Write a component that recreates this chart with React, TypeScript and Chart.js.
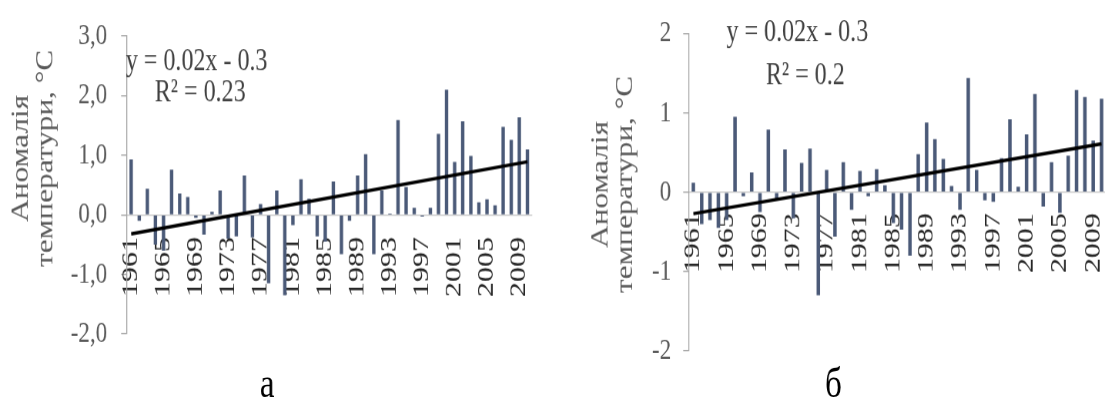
import React, { useEffect, useRef } from "react";
import { Chart, registerables } from "chart.js";

Chart.register(...registerables);

// ---------- data ----------
const years = [
  "1961", "1962", "1963", "1964", "1965", "1966", "1967", "1968", "1969", "1970",
  "1971", "1972", "1973", "1974", "1975", "1976", "1977", "1978", "1979", "1980",
  "1981", "1982", "1983", "1984", "1985", "1986", "1987", "1988", "1989", "1990",
  "1991", "1992", "1993", "1994", "1995", "1996", "1997", "1998", "1999", "2000",
  "2001", "2002", "2003", "2004", "2005", "2006", "2007", "2008", "2009", "2010",
];
const yearTicks = ["1961", "1965", "1969", "1973", "1977", "1981", "1985", "1989", "1993", "1997", "2001", "2005", "2009"];

const anomalyA = [
  0.93, -0.1, 0.44, -0.5, -0.6, 0.76, 0.36, 0.3, -0.05, -0.33,
  0.05, 0.41, -0.4, -0.36, 0.66, -0.38, 0.18, -1.15, 0.41, -1.35,
  -0.17, 0.6, 0.27, -0.36, -0.45, 0.56, -0.66, -0.1, 0.66, 1.02,
  -0.66, 0.41, 0.02, 1.59, 0.47, 0.12, -0.03, 0.12, 1.36, 2.1,
  0.89, 1.57, 0.99, 0.21, 0.26, 0.16, 1.48, 1.26, 1.64, 1.1,
];
const trendA = [-0.32, 0.89];
const yTicksA = ["-2,0", "-1,0", "0,0", "1,0", "2,0", "3,0"];
const equationA = ["y = 0.02x - 0.3", "R\u00B2 = 0.23"];

const anomalyB = [
  0.12, -0.4, -0.35, -0.45, -0.35, 0.95, -0.05, 0.25, -0.25, 0.79,
  -0.1, 0.54, -0.33, 0.37, 0.55, -1.3, 0.28, -0.56, 0.38, -0.22,
  0.27, -0.05, 0.29, 0.09, -0.39, -0.47, -0.8, 0.48, 0.88, 0.67,
  0.42, 0.08, -0.22, 1.44, 0.28, -0.1, -0.12, 0.43, 0.92, 0.07,
  0.73, 1.24, -0.18, 0.38, -0.26, 0.46, 1.29, 1.2, 0.65, 1.18,
];
const trendB = [-0.27, 0.61];
const yTicksB = ["-2", "-1", "0", "1", "2"];
const equationB = ["y = 0.02x - 0.3", "R\u00B2 = 0.2"];

const axisTitle = ["Аномалія", "температури, °С"];
const captionA = "а";
const captionB = "б";

// ---------- layout / style ----------
const STRETCH = 1.3; // the picture is stretched vertically
const LOGICAL_H = 306;
const FONT = '"Liberation Serif", "Times New Roman", serif';
const BAR_COLOR = "#4b5a78";
const AXIS_COLOR = "#a6a6a6";

type Layout = {
  width: number;
  axisWidth: number;
  top: number;
  bottom: number;
  padRight: number;
  yMin: number;
  yMax: number;
  yTickPad: number;
  xTickPad: number;
  titleX: number[];
  titleY: number;
  eqPos: number[][];
  captionPos: number[];
};

const layoutA: Layout = {
  width: 552, axisWidth: 127, top: 21.5, bottom: 256.2, padRight: 21, yMin: -2, yMax: 3,
  yTickPad: 14, xTickPad: 17, titleX: [28, 52], titleY: 121.5,
  eqPos: [[196.5, 47.7], [200, 71.5]], captionPos: [267, 304.5],
};

const layoutB: Layout = {
  width: 553, axisWidth: 137, top: 21.5, bottom: 269.2, padRight: 0, yMin: -2, yMax: 2,
  yTickPad: 12, xTickPad: 16, titleX: [55, 80], titleY: 141.5,
  eqPos: [[245, 25.4], [253, 58.5]], captionPos: [281, 304.5],
};

function makeTextPlugin(lay: Layout, equation: string[], caption: string) {
  return {
    id: "panelText",
    afterDraw(chart: any) {
      const ctx = chart.ctx as CanvasRenderingContext2D;
      ctx.save();
      // axis title (two rotated lines)
      ctx.fillStyle = "#595959";
      ctx.font = `24px ${FONT}`;
      ctx.textAlign = "center";
      ctx.textBaseline = "alphabetic";
      axisTitle.forEach((line, i) => {
        ctx.save();
        ctx.translate(lay.titleX[i], lay.titleY);
        ctx.rotate(-Math.PI / 2);
        ctx.fillText(line, 0, 0);
        ctx.restore();
      });
      // trend equation
      ctx.fillStyle = "#404040";
      ctx.font = `24px ${FONT}`;
      ctx.textBaseline = "middle";
      equation.forEach((line, i) => {
        ctx.fillText(line, lay.eqPos[i][0], lay.eqPos[i][1]);
      });
      // panel caption
      ctx.fillStyle = "#000000";
      ctx.font = `33px ${FONT}`;
      ctx.textBaseline = "alphabetic";
      ctx.fillText(caption, lay.captionPos[0], lay.captionPos[1]);
      ctx.restore();
    },
  };
}

type PanelProps = {
  lay: Layout;
  values: number[];
  trend: number[];
  yLabels: string[];
  equation: string[];
  caption: string;
};

function Panel({ lay, values, trend, yLabels, equation, caption }: PanelProps) {
  const ref = useRef<HTMLCanvasElement>(null);

  useEffect(() => {
    const canvas = ref.current;
    if (!canvas) return;
    const last = years.length - 1;
    const trendData = years.map((_, i) => (i === 0 ? trend[0] : i === last ? trend[1] : null));

    const chart = new Chart(canvas, {
      type: "bar",
      data: {
        labels: years,
        datasets: [
          {
            type: "line",
            data: trendData,
            borderColor: "#000000",
            borderWidth: 2.6,
            pointRadius: 0,
            spanGaps: true,
            order: 0,
          } as any,
          {
            type: "bar",
            data: values,
            backgroundColor: BAR_COLOR,
            borderWidth: 0,
            categoryPercentage: 1,
            barPercentage: 0.42,
            order: 1,
          },
        ],
      },
      options: {
        animation: false,
        responsive: false,
        devicePixelRatio: STRETCH,
        layout: {
          padding: { left: 0, right: lay.padRight, top: lay.top, bottom: LOGICAL_H - lay.bottom },
        },
        plugins: {
          legend: { display: false },
          tooltip: { enabled: false },
          title: { display: false },
        },
        scales: {
          x: {
            type: "category",
            position: { y: 0 } as any,
            offset: true,
            grid: { display: true, drawOnChartArea: false, drawTicks: false },
            border: { display: true, color: "#c8c8c8", width: 1 },
            ticks: {
              autoSkip: false,
              maxRotation: 90,
              minRotation: 90,
              padding: lay.xTickPad,
              color: "#262626",
              font: { family: FONT, size: 23 },
              callback: (_v: any, index: number) =>
                yearTicks.includes(years[index]) ? years[index] : "",
            },
            afterFit: (scale: any) => {
              scale.paddingLeft = 0;
              scale.paddingRight = 0;
            },
          },
          y: {
            min: lay.yMin,
            max: lay.yMax,
            grid: { display: true, drawOnChartArea: false, drawTicks: true, tickLength: 6, color: AXIS_COLOR },
            border: { display: true, color: AXIS_COLOR, width: 1 },
            ticks: {
              stepSize: 1,
              padding: lay.yTickPad,
              color: "#595959",
              font: { family: FONT, size: 23 },
              callback: (_v: any, index: number) => yLabels[index],
            },
            afterFit: (scale: any) => {
              scale.width = lay.axisWidth;
            },
          },
        },
      } as any,
      plugins: [makeTextPlugin(lay, equation, caption)],
    });
    return () => chart.destroy();
  }, []);

  return (
    <canvas
      ref={ref}
      width={lay.width}
      height={LOGICAL_H}
      style={{ display: "block", width: `${lay.width}px`, height: `${LOGICAL_H * STRETCH}px` }}
    />
  );
}

export default function App() {
  return (
    <div
      style={{
        position: "absolute", left: 0, top: 0, width: 1105, height: 398,
        display: "flex", background: "#ffffff", overflow: "hidden",
      }}
    >
      <Panel lay={layoutA} values={anomalyA} trend={trendA} yLabels={yTicksA} equation={equationA} caption={captionA} />
      <Panel lay={layoutB} values={anomalyB} trend={trendB} yLabels={yTicksB} equation={equationB} caption={captionB} />
    </div>
  );
}
